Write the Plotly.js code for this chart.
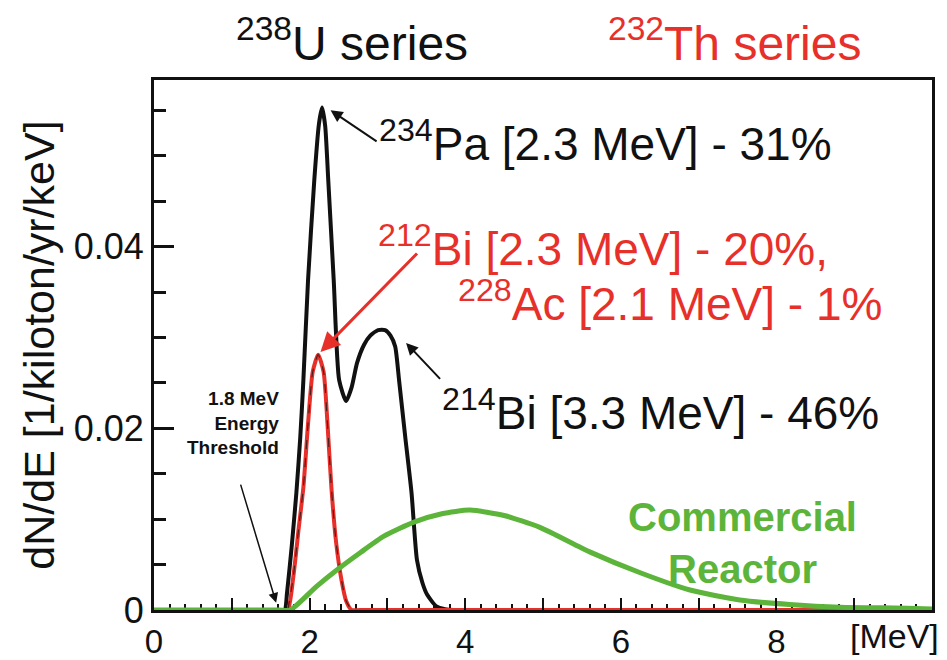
<!DOCTYPE html>
<html>
<head>
<meta charset="utf-8">
<script src="https://cdn.plot.ly/plotly-3.0.1.min.js"></script>
<style>html,body{margin:0;padding:0;background:#fff;}</style>
</head>
<body>
<div id="chart" style="width:947px;height:660px;"></div>
<script>
// 238U series (black) spectrum, MeV vs dN/dE
const uEnergy = [0, 1.60, 1.68, 1.71, 1.77, 1.83, 1.88, 1.92, 1.98, 2.06, 2.12, 2.16, 2.20, 2.24, 2.31, 2.38, 2.47, 2.54, 2.61, 2.70, 2.78, 2.88, 2.97, 3.04, 3.10, 3.15, 3.23, 3.31, 3.38, 3.45, 3.51, 3.63, 3.74, 3.85, 10];
const uRate   = [0, 0, 0, 0.0019, 0.0070, 0.0129, 0.0190, 0.0253, 0.0363, 0.0473, 0.0535, 0.0553, 0.0533, 0.0473, 0.0363, 0.0253, 0.0230, 0.0245, 0.0272, 0.0292, 0.0302, 0.0308, 0.0308, 0.0302, 0.0290, 0.0253, 0.0190, 0.0129, 0.0055, 0.0030, 0.0017, 0.0004, 0.0001, 0, 0];

// 232Th series (red) spectrum
const thEnergy = [0, 1.65, 1.72, 1.79, 1.86, 1.92, 1.98, 2.04, 2.11, 2.18, 2.23, 2.28, 2.34, 2.41, 2.47, 2.54, 2.65, 10];
const thRate   = [0, 0, 0, 0.0036, 0.0090, 0.0135, 0.0205, 0.0262, 0.0281, 0.0262, 0.0205, 0.0135, 0.0075, 0.0033, 0.0010, 0, 0, 0];

// Commercial reactor (green) spectrum
const reactorEnergy = [0, 1.60, 1.75, 2.09, 2.35, 2.65, 2.95, 3.35, 3.70, 4.06, 4.50, 4.96, 5.60, 6.25, 6.89, 7.53, 8.17, 8.82, 9.68, 10];
const reactorRate   = [0, 0, 0, 0.0026, 0.0044, 0.0063, 0.0081, 0.0097, 0.0106, 0.0110, 0.0104, 0.0091, 0.0064, 0.0041, 0.0022, 0.0011, 0.0006, 0.0003, 0.0002, 0.0001];

// Axis ticks
const xTickVals = [0, 2, 4, 6, 8];
const xTickText = ['0', '2', '4', '6', '8'];
const yTickVals = [0, 0.02, 0.04];
const yTickText = ['0', '0.02', '0.04'];

// Labels
const seriesTitles = ['<sup>238</sup>U series', '<sup>232</sup>Th series'];
const peakLabels = ['<sup>234</sup>Pa [2.3 MeV] - 31%', '<sup>212</sup>Bi [2.3 MeV] - 20%,', '<sup>228</sup>Ac [2.1 MeV] - 1%', '<sup>214</sup>Bi [3.3 MeV] - 46%'];
const reactorLabel = 'Commercial<br>Reactor';
const thresholdLabel = '1.8 MeV<br>Energy<br>Threshold';
const unitLabel = '[MeV]';
const yTitle = 'dN/dE [1/kiloton/yr/keV]';

const BLACK = '#111111', RED = '#e8302a', GREEN = '#5cb53a';
const FONT = 'Liberation Sans, Arial, Helvetica, sans-serif';

// pixel -> paper helpers (layout only)
const L = 154, R = 932, T = 80, B = 610;
const px = p => (p - L) / (R - L);
const py = p => (B - p) / (B - T);

const traces = [
  {x: uEnergy, y: uRate, mode: 'lines', line: {color: BLACK, width: 4, shape: 'spline', smoothing: 0.6}, cliponaxis: false, name: 'U'},
  {x: thEnergy, y: thRate, mode: 'lines', line: {color: RED, width: 4, shape: 'spline', smoothing: 0.6}, cliponaxis: false, name: 'Th'},
  {x: thEnergy.slice(2, 16), y: thRate.slice(2, 16), mode: 'lines', line: {color: 'rgba(20,20,20,0.7)', width: 1.2, dash: 'dash', shape: 'spline', smoothing: 0.6}, cliponaxis: false, name: 'Th overlay'},
  {x: reactorEnergy, y: reactorRate, xaxis: 'x2', mode: 'lines', line: {color: GREEN, width: 5, shape: 'spline', smoothing: 0.6}, cliponaxis: false, name: 'Reactor'}
];

const ann = [];
function textAnn(text, x, y, opts) {
  ann.push(Object.assign({xref: 'paper', yref: 'paper', x: px(x), y: py(y), text: text, showarrow: false,
    xanchor: 'left', yanchor: 'middle', font: {family: FONT, size: 46, color: BLACK}}, opts || {}));
}
textAnn(seriesTitles[0], 234, 40, {font: {family: FONT, size: 48, color: BLACK}});
textAnn(seriesTitles[1], 606, 40, {font: {family: FONT, size: 48, color: RED}});
textAnn(peakLabels[1], 376, 246, {font: {family: FONT, size: 46, color: RED}});
textAnn(peakLabels[2], 456, 301, {font: {family: FONT, size: 46, color: RED}});
textAnn(reactorLabel, 742, 543, {xanchor: 'center', font: {family: FONT, size: 40, color: GREEN, weight: 'bold'}});
textAnn(unitLabel, 941, 636, {xanchor: 'right', font: {family: FONT, size: 34, color: BLACK}});

// labels carrying arrows (arrow tail sits at the text anchor)
function arrowLabel(text, x, y, ax, ay, opts) {
  ann.push(Object.assign({xref: 'x', yref: 'y', x: x, y: y, ax: ax, ay: ay, axref: 'pixel', ayref: 'pixel', text: text,
    showarrow: true, arrowhead: 2, arrowsize: 1.2, arrowwidth: 2, arrowcolor: BLACK, standoff: 0, startstandoff: 0,
    xanchor: 'left', yanchor: 'middle', font: {family: FONT, size: 46, color: BLACK}}, opts || {}));
}
arrowLabel(peakLabels[0], 2.27, 0.0550, 46, 31);
arrowLabel(peakLabels[3], 3.24, 0.0294, 34, 36, {yanchor: 'top'});
arrowLabel(thresholdLabel, 1.57, 0.0008, -43, -143, {xanchor: 'center', yanchor: 'bottom', align: 'right',
  arrowwidth: 1.5, arrowsize: 1.3, startstandoff: 26, font: {family: FONT, size: 19, color: BLACK, weight: 'bold'}});
// red pointer from the Th label to the Th peak
ann.push({xref: 'x', yref: 'y', x: 2.14, y: 0.0284, ax: 98, ay: -100, axref: 'pixel', ayref: 'pixel', text: '',
  showarrow: true, arrowhead: 2, arrowsize: 1.3, arrowwidth: 3, arrowcolor: RED, standoff: 0, startstandoff: 0});

const layout = {
  width: 947, height: 660,
  margin: {l: L, r: 947 - R, t: T, b: 660 - B},
  paper_bgcolor: '#ffffff', plot_bgcolor: '#ffffff',
  showlegend: false, hovermode: false,
  font: {family: FONT, color: BLACK},
  xaxis: {
    range: [0, 10], showgrid: false, zeroline: false,
    showline: true, linecolor: BLACK, linewidth: 3, mirror: true, layer: 'below traces',
    ticks: 'inside', ticklen: 12, tickwidth: 2, tickcolor: BLACK,
    tickmode: 'array', tickvals: xTickVals, ticktext: xTickText,
    tickfont: {family: FONT, size: 33, color: BLACK},
    minor: {dtick: 0.2, ticks: 'inside', ticklen: 6, tickwidth: 2, tickcolor: BLACK, showgrid: false}
  },
  xaxis2: {
    matches: 'x', overlaying: 'x', anchor: 'y', side: 'bottom',
    showgrid: false, zeroline: false, showline: false, showticklabels: false,
    ticks: 'inside', ticklen: 12, tickwidth: 2, tickcolor: BLACK, tickmode: 'linear', tick0: 0, dtick: 1
  },
  yaxis: {
    range: [0, 0.05834], showgrid: false, zeroline: false,
    showline: true, linecolor: BLACK, linewidth: 3, mirror: true, layer: 'below traces',
    ticks: 'inside', ticklen: 20, tickwidth: 3, tickcolor: BLACK,
    tickmode: 'array', tickvals: yTickVals, ticktext: yTickText,
    tickfont: {family: FONT, size: 36, color: BLACK},
    minor: {dtick: 0.005, ticks: 'inside', ticklen: 12, tickwidth: 3, tickcolor: BLACK, showgrid: false},
    title: {text: yTitle, font: {family: FONT, size: 43, color: BLACK}, standoff: 6}
  },
  annotations: ann
};

Plotly.newPlot('chart', traces, layout, {displayModeBar: false, staticPlot: true});
</script>
</body>
</html>
